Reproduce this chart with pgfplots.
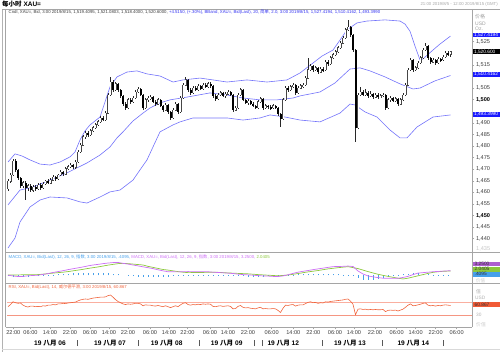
\documentclass[border=0pt]{standalone}
\usepackage{pgfplots}
\pgfplotsset{compat=1.18}
\usepackage{pgfplotstable}
\usepackage{fontspec}
\setmainfont{Liberation Sans}
\newfontfamily\cjk{Noto Sans CJK SC}
\newcommand\fs[1]{\fontsize{#1}{#1}\selectfont}
\definecolor{band}{RGB}{115,115,250}
\definecolor{macdp}{RGB}{205,110,245}
\definecolor{macdg}{RGB}{140,200,60}
\definecolor{histb}{RGB}{70,160,235}
\definecolor{rsic}{RGB}{240,100,60}
\definecolor{rsil}{RGB}{250,175,160}
\definecolor{rsil2}{RGB}{245,150,130}
\definecolor{frame}{RGB}{165,165,165}
\definecolor{lab}{RGB}{60,60,60}
\definecolor{infoblue}{RGB}{50,50,240}
\definecolor{infogray}{RGB}{60,60,60}
\definecolor{bluebox}{RGB}{25,25,255}
\definecolor{wick}{RGB}{40,40,40}
\definecolor{upline}{RGB}{70,70,70}

\pgfplotstableread{
x o h l c
8.0 1461.5 1465.6 1460.8 1464.8
10.5 1464.8 1468.3 1464.2 1467.5
13.0 1467.5 1474.2 1467.0 1473.5
15.5 1473.5 1474.6 1469.0 1469.5
18.0 1469.5 1470.2 1465.4 1466.0
20.5 1466.0 1466.6 1462.0 1462.8
23.0 1462.8 1465.0 1461.8 1464.2
25.5 1464.2 1464.8 1456.7 1461.9
28.0 1461.9 1463.6 1460.5 1462.8
30.5 1462.8 1463.5 1460.2 1461.0
33.0 1461.0 1463.0 1460.0 1462.3
35.5 1462.3 1463.1 1460.6 1461.5
38.0 1461.5 1463.9 1460.9 1463.2
40.5 1463.2 1464.0 1461.2 1461.9
43.0 1461.9 1464.3 1461.3 1463.6
45.5 1463.6 1465.5 1463.0 1464.9
48.0 1464.9 1465.8 1463.4 1464.0
50.5 1464.0 1466.0 1463.5 1465.3
53.0 1465.3 1467.4 1464.8 1466.6
55.5 1466.6 1467.2 1465.0 1465.8
58.0 1465.8 1468.1 1465.3 1467.5
60.5 1467.5 1469.6 1467.0 1468.8
63.0 1468.8 1469.4 1467.2 1467.9
65.5 1467.9 1470.8 1467.4 1470.1
68.0 1470.1 1471.9 1469.5 1471.0
70.5 1471.0 1472.6 1470.4 1471.8
73.0 1471.8 1472.4 1470.2 1470.9
75.5 1470.9 1474.0 1470.3 1473.1
78.0 1473.1 1478.2 1472.6 1477.4
80.5 1477.4 1481.3 1476.8 1480.4
83.0 1480.4 1484.8 1479.9 1483.9
85.5 1483.9 1486.4 1483.2 1485.6
88.0 1485.6 1486.3 1484.0 1484.8
90.5 1484.8 1487.3 1484.3 1486.5
93.0 1486.5 1488.6 1485.9 1487.8
95.5 1487.8 1489.9 1487.2 1489.1
98.0 1489.1 1491.2 1488.5 1490.4
100.5 1490.4 1492.9 1489.9 1492.1
103.0 1492.1 1492.8 1490.6 1491.3
105.5 1491.3 1495.0 1490.8 1494.2
108.0 1494.2 1503.0 1493.6 1502.0
110.5 1502.0 1509.7 1501.4 1507.6
113.0 1507.6 1508.3 1503.5 1504.2
115.5 1504.2 1507.8 1503.6 1506.8
118.0 1506.8 1507.4 1503.4 1504.2
120.5 1504.2 1504.8 1500.9 1501.6
123.0 1501.6 1502.2 1497.4 1498.1
125.5 1498.1 1498.8 1495.6 1496.4
128.0 1496.4 1500.6 1495.9 1499.9
130.5 1499.9 1500.8 1498.3 1499.0
133.0 1499.0 1501.5 1498.4 1500.7
135.5 1500.7 1504.1 1500.1 1503.3
138.0 1503.3 1505.4 1502.7 1504.6
140.5 1504.6 1505.2 1501.4 1502.0
143.0 1502.0 1502.6 1495.6 1496.4
145.5 1496.4 1500.7 1495.8 1499.9
148.0 1499.9 1501.5 1499.2 1500.7
150.5 1500.7 1502.0 1500.0 1501.1
153.0 1501.1 1501.7 1498.4 1499.0
155.5 1499.0 1499.7 1497.4 1498.1
158.0 1498.1 1500.7 1497.6 1499.9
160.5 1499.9 1500.4 1496.7 1497.3
163.0 1497.3 1497.9 1494.8 1495.5
165.5 1495.5 1498.5 1495.0 1497.7
168.0 1497.7 1498.3 1494.0 1494.7
170.5 1494.7 1495.3 1491.4 1492.1
173.0 1492.1 1496.3 1491.5 1495.5
175.5 1495.5 1498.9 1495.0 1498.1
178.0 1498.1 1498.7 1494.0 1494.7
180.5 1494.7 1501.5 1494.2 1500.7
183.0 1500.7 1507.2 1500.1 1506.3
185.5 1506.3 1509.7 1505.7 1508.5
188.0 1508.5 1509.1 1503.5 1504.2
190.5 1504.2 1504.9 1502.2 1502.9
193.0 1502.9 1505.8 1502.3 1505.0
195.5 1505.0 1505.7 1503.6 1504.2
198.0 1504.2 1506.7 1503.7 1505.9
200.5 1505.9 1506.5 1504.0 1504.6
203.0 1504.6 1507.1 1504.1 1506.3
205.5 1506.3 1507.0 1504.9 1505.5
208.0 1505.5 1507.6 1505.0 1506.8
210.5 1506.8 1507.5 1505.2 1505.9
213.0 1505.9 1506.5 1500.9 1501.6
215.5 1501.6 1502.3 1499.6 1500.3
218.0 1500.3 1502.8 1499.8 1502.0
220.5 1502.0 1503.7 1501.4 1502.9
223.0 1502.9 1503.5 1501.0 1501.6
225.5 1501.6 1503.2 1500.9 1502.4
228.0 1502.4 1504.1 1501.8 1503.3
230.5 1503.3 1503.9 1501.4 1502.0
233.0 1502.0 1502.6 1494.8 1495.5
235.5 1495.5 1497.2 1494.9 1496.4
238.0 1496.4 1502.8 1495.8 1502.0
240.5 1502.0 1505.0 1501.4 1504.2
243.0 1504.2 1504.8 1499.2 1499.9
245.5 1499.9 1500.5 1498.0 1498.6
248.0 1498.6 1500.2 1497.9 1499.4
250.5 1499.4 1500.0 1497.5 1498.1
253.0 1498.1 1498.8 1496.7 1497.3
255.5 1497.3 1497.9 1495.8 1496.4
258.0 1496.4 1499.8 1495.9 1499.0
260.5 1499.0 1501.1 1498.4 1500.3
263.0 1500.3 1500.9 1495.7 1496.4
265.5 1496.4 1498.1 1495.8 1497.3
268.0 1497.3 1497.9 1496.1 1496.8
270.5 1496.8 1497.5 1495.7 1496.4
273.0 1496.4 1498.1 1495.9 1497.3
275.5 1497.3 1497.9 1495.8 1496.4
278.0 1496.4 1497.0 1493.1 1493.8
280.5 1493.8 1494.4 1488.2 1491.7
283.0 1491.7 1500.7 1491.1 1499.9
285.5 1499.9 1505.9 1499.3 1505.0
288.0 1505.0 1505.7 1503.5 1504.2
290.5 1504.2 1506.3 1503.7 1505.5
293.0 1505.5 1507.1 1504.9 1506.3
295.5 1506.3 1506.9 1502.2 1502.9
298.0 1502.9 1505.8 1502.4 1505.0
300.5 1505.0 1506.7 1504.4 1505.9
303.0 1505.9 1507.1 1505.2 1506.3
305.5 1506.3 1510.1 1505.7 1509.3
308.0 1509.3 1518.0 1508.7 1512.8
310.5 1512.8 1515.3 1512.2 1514.5
313.0 1514.5 1515.1 1512.1 1512.8
315.5 1512.8 1514.5 1512.2 1513.7
318.0 1513.7 1514.3 1511.2 1511.9
320.5 1511.9 1514.0 1511.3 1513.2
323.0 1513.2 1513.9 1512.1 1512.8
325.5 1512.8 1517.0 1512.2 1516.2
328.0 1516.2 1517.0 1514.7 1515.4
330.5 1515.4 1518.8 1514.8 1518.0
333.0 1518.0 1520.1 1517.4 1519.3
335.5 1519.3 1521.4 1518.7 1520.6
338.0 1520.6 1523.1 1520.0 1522.3
340.5 1522.3 1525.2 1521.7 1524.4
343.0 1524.4 1527.4 1523.8 1526.6
345.5 1526.6 1531.0 1526.0 1530.1
348.0 1530.1 1534.4 1529.5 1531.3
350.5 1531.3 1531.9 1527.2 1527.9
353.0 1527.9 1528.5 1520.7 1521.4
355.5 1521.4 1522.0 1481.7 1487.8
358.0 1487.8 1502.9 1487.2 1502.0
360.5 1502.0 1505.5 1501.4 1503.3
363.0 1503.3 1504.1 1501.4 1502.0
365.5 1502.0 1504.8 1501.4 1502.9
368.0 1502.9 1503.6 1500.9 1501.6
370.5 1501.6 1503.9 1501.0 1502.4
373.0 1502.4 1503.0 1500.4 1501.1
375.5 1501.1 1502.8 1500.5 1502.0
378.0 1502.0 1502.7 1500.5 1501.1
380.5 1501.1 1502.4 1500.5 1501.6
383.0 1501.6 1502.8 1501.0 1502.0
385.5 1502.0 1502.6 1495.7 1496.4
388.0 1496.4 1500.7 1495.8 1499.9
390.5 1499.9 1501.5 1499.2 1500.7
393.0 1500.7 1501.3 1498.8 1499.4
395.5 1499.4 1501.1 1498.8 1500.3
398.0 1500.3 1500.9 1497.4 1498.1
400.5 1498.1 1500.7 1497.6 1499.9
403.0 1499.9 1502.8 1499.3 1502.0
405.5 1502.0 1507.1 1501.4 1506.3
408.0 1506.3 1513.6 1505.7 1512.8
410.5 1512.8 1518.0 1512.2 1517.1
413.0 1517.1 1517.7 1512.1 1512.8
415.5 1512.8 1514.5 1512.2 1513.7
418.0 1513.7 1516.6 1513.1 1515.8
420.5 1515.8 1518.8 1515.2 1518.0
423.0 1518.0 1522.2 1517.4 1521.4
425.5 1521.4 1524.4 1520.8 1523.1
428.0 1523.1 1523.7 1517.3 1518.0
430.5 1518.0 1518.6 1515.5 1516.2
433.0 1516.2 1517.9 1515.6 1517.1
435.5 1517.1 1517.7 1515.1 1515.8
438.0 1515.8 1518.3 1515.2 1517.5
440.5 1517.5 1518.1 1516.4 1517.1
443.0 1517.1 1519.2 1516.5 1518.4
445.5 1518.4 1520.9 1517.8 1520.1
448.0 1520.1 1520.8 1518.7 1519.4
450.5 1519.4 1521.1 1518.4 1520.6
}\candles

\pgfplotstableread{
x y
8 1473.1
15 1476.6
22 1475.7
30 1474.0
40 1472.2
50 1471.8
60 1473.1
70 1475.3
75 1477.4
80 1482.6
85 1486.5
90 1489.1
100 1492.5
105 1499.0
110 1505.5
117 1509.8
127 1511.9
137 1512.4
147 1511.1
160 1510.2
173 1507.6
183 1508.5
200 1509.3
213 1508.5
227 1507.6
247 1508.5
267 1507.6
287 1508.5
300 1511.5
313 1515.8
322 1518.8
333 1521.4
340 1525.7
347 1530.1
357 1533.1
367 1533.9
385 1534.4
400 1533.9
405 1532.6
410 1529.5
415 1523.1
420 1517.1
423 1517.6
433 1521.4
440 1524.0
450.5 1527.4
}\bbup

\pgfplotstableread{
x y
8 1454.6
20 1461.0
33 1462.3
50 1465.3
67 1468.4
87 1472.7
100 1476.1
110 1479.6
117 1483.5
123 1486.1
133 1490.8
143 1494.2
150 1496.4
160 1498.6
170 1499.9
187 1501.1
210 1502.9
227 1502.0
243 1500.7
260 1499.9
277 1499.9
293 1500.7
300 1501.6
320 1503.3
335 1507.2
350 1513.2
360 1513.7
370 1512.4
385 1509.8
400 1506.8
413 1504.6
420 1505.0
435 1508.1
450.5 1510.4
}\bbmid

\pgfplotstableread{
x y
8 1436.0
15 1440.3
20 1447.2
30 1453.7
40 1456.7
50 1458.0
67 1457.6
80 1455.9
87 1455.4
100 1458.0
110 1460.2
120 1461.0
133 1465.3
140 1469.7
147 1474.0
153 1479.6
160 1486.1
173 1489.1
180 1490.4
193 1492.1
210 1492.1
227 1492.1
243 1491.2
260 1492.1
270 1493.4
285 1492.5
300 1491.2
320 1490.4
340 1494.2
350 1498.1
355 1497.7
365 1494.7
377 1492.5
390 1486.9
400 1483.5
407 1483.5
417 1488.2
433 1492.5
450.5 1493.4
}\bblow

\pgfplotstableread{
x y
8 0.2
13 -0.3
18 -0.7
23 -0.6
28 -0.2
33 0.0
38 0.2
43 0.7
48 1.3
53 2.0
58 2.6
63 3.2
68 3.9
73 4.5
78 5.1
83 5.7
88 6.4
93 7.0
98 7.4
103 7.9
108 8.3
113 8.6
118 8.7
123 8.1
128 7.6
133 7.0
138 6.4
143 5.8
148 5.2
153 4.6
158 3.8
163 3.1
168 2.5
178 2.4
188 2.6
198 2.5
208 2.5
213 2.2
218 2.0
223 1.8
228 1.6
233 1.3
238 0.9
243 0.6
248 0.4
253 0.2
258 -0.1
263 -0.3
268 -0.4
273 -0.6
278 -0.7
283 -0.3
288 0.5
293 1.4
298 2.2
303 2.8
308 3.3
313 3.9
318 4.4
323 4.9
328 5.4
333 5.9
338 6.0
343 6.1
348 6.3
353 6.0
358 3.0
363 1.0
368 -0.3
373 -0.9
378 -1.4
383 -1.8
393 -1.9
398 -1.9
403 -1.3
408 -0.6
413 0.6
418 1.6
423 1.9
428 2.2
433 2.5
438 2.7
443 2.9
450.5 3.2
}\macdline

\pgfplotstableread{
x y
8 0.3
18 0.4
28 0.5
38 0.6
43 0.9
48 1.2
53 1.6
58 1.9
63 2.2
68 2.6
73 3.1
78 3.6
83 4.1
88 4.7
93 5.2
98 5.7
103 6.3
108 6.9
113 7.4
118 7.9
123 8.1
128 7.9
133 7.6
138 7.3
143 7.0
148 6.1
153 5.4
158 4.7
163 4.0
168 3.6
173 3.1
178 2.6
183 2.2
188 1.9
198 2.0
208 2.1
218 2.1
228 1.7
238 1.4
248 1.1
258 0.6
268 0.2
278 -0.2
288 0.3
298 1.3
308 2.4
318 3.3
328 4.4
338 5.2
348 5.9
358 4.6
368 2.6
378 0.8
388 -0.6
398 -1.8
403 -2.3
408 -1.8
413 -1.0
418 -0.2
423 0.6
428 1.4
433 2.1
438 2.5
443 2.8
450.5 3.0
}\macdsig

\pgfplotstableread{
x y
8 -0.1
13 -0.7
18 -1.2
23 -1.1
28 -0.8
33 -0.6
38 -0.5
43 -0.2
48 0.1
53 0.4
58 0.7
63 1.0
68 1.3
73 1.4
78 1.5
83 1.6
88 1.7
93 1.8
98 1.7
103 1.6
108 1.4
113 1.2
118 0.8
123 0.0
128 -0.3
133 -0.6
138 -0.9
143 -1.2
148 -0.9
153 -0.8
158 -0.9
163 -0.9
168 -1.1
173 -0.6
178 -0.1
183 0.3
188 0.6
193 0.5
198 0.5
203 0.4
208 0.4
213 0.1
218 -0.1
223 -0.2
228 -0.1
233 -0.3
238 -0.5
243 -0.6
248 -0.7
253 -0.7
258 -0.7
263 -0.7
268 -0.6
273 -0.6
278 -0.5
283 -0.3
288 0.2
293 0.6
298 0.9
303 1.0
308 0.9
313 1.0
318 1.1
323 1.0
328 1.0
333 0.9
338 0.8
343 0.6
348 0.4
353 0.1
358 -1.6
363 -2.8
368 -3.3
373 -3.0
378 -2.4
383 -1.8
388 -1.2
393 -0.6
398 -0.1
403 0.9
408 1.2
413 1.6
418 1.8
423 1.3
428 0.8
433 0.4
438 0.2
443 0.1
448 0.1
}\macdhist

\pgfplotstableread{
x y
8 57
10.5 64
13 73
15.5 70
18 68
20.5 69
23 62
25.5 58
28 56
30.5 59
33 59
35.5 57
38 58
40.5 57
43 60
45.5 59
48 62
50.5 62
53 64
55.5 63
58 66
60.5 66
63 68
65.5 67
68 69
70.5 70
73 71
75.5 72
78 76
80.5 79
83 81
85.5 82
88 81
90.5 83
93 85
95.5 86
98 87
100.5 88
103 88
105.5 89
108 93
110.5 95
113 88
115.5 80
118 74
120.5 70
123 66
125.5 64
128 66
130.5 65
133 66
135.5 68
138 68
140.5 66
143 60
145.5 63
148 62
150.5 62
153 60
155.5 59
158 61
160.5 59
163 57
165.5 60
168 57
170.5 54
173 57
175.5 60
178 57
180.5 63
183 68
185.5 70
188 64
190.5 62
193 64
195.5 63
198 65
200.5 64
203 66
205.5 65
208 66
210.5 65
213 58
215.5 57
218 59
220.5 60
223 58
225.5 59
228 60
230.5 58
233 50
235.5 51
238 58
240.5 61
243 55
245.5 53
248 54
250.5 52
253 51
255.5 50
258 53
260.5 55
263 50
265.5 51
268 50
270.5 50
273 51
275.5 50
278 45
280.5 38
283 52
285.5 62
288 61
290.5 63
293 64
295.5 59
298 62
300.5 63
303 63
305.5 67
308 71
310.5 73
313 70
315.5 71
318 68
320.5 70
323 69
325.5 73
328 72
330.5 74
333 75
335.5 76
338 77
340.5 78
343 79
345.5 81
348 82
350.5 75
353 65
355.5 31
358 49
360.5 50
363 48
365.5 49
368 47
370.5 48
373 47
375.5 48
378 47
380.5 47
383 48
385.5 41
388 45
390.5 46
393 45
395.5 46
398 43
400.5 46
403 49
405.5 55
408 62
410.5 66
413 60
415.5 61
418 63
420.5 65
423 68
425.5 69
428 62
430.5 60
433 61
435.5 59
438 61
440.5 60
443 62
445.5 63
448 62
450.5 60.9
}\rsidata

\begin{document}
\begin{tikzpicture}[x=1pt,y=1pt]
\path[use as bounding box] (0,0) rectangle (500,352);

% ---------- main price panel ----------
\begin{axis}[
  at={(7pt,100pt)}, anchor=south west, scale only axis,
  width=465.3pt, height=243pt,
  xmin=7, xmax=472.3, ymin=1434.28, ymax=1539.1,
  axis x line=none, axis y line*=right,
  axis line style={frame, line width=0.6pt},
  ytick={1440,1445,1455,1460,1465,1470,1475,1480,1485,1490,1505,1515,1525},
  extra y ticks={1450,1500},
  extra y tick style={yticklabel style={font=\fs{5.6}\bfseries, text=black}},
  tick align=outside, major tick length=2pt,
  tick style={frame, line width=0.5pt},
  yticklabel style={font=\fs{5.6}, text=lab, inner sep=0pt, xshift=1.5pt},
  /pgf/number format/1000 sep={,},
  /pgf/number format/assume math mode=true,
  scaled y ticks=false,
]
\addplot[band, line width=0.6pt] table[x=x,y=y] {\bbup};
\addplot[band, line width=0.6pt] table[x=x,y=y] {\bbmid};
\addplot[band, line width=0.6pt] table[x=x,y=y] {\bblow};
% wicks
\addplot[draw=none, no markers, forget plot,
  error bars/.cd, y dir=both, y explicit, error mark=none,
  error bar style={line width=0.45pt, draw=wick}]
  table[x=x, y expr={(\thisrow{h}+\thisrow{l})/2}, y error expr={(\thisrow{h}-\thisrow{l})/2}] {\candles};
% up bodies: outline
\addplot[draw=none, no markers, forget plot,
  error bars/.cd, y dir=both, y explicit, error mark=none,
  error bar style={line width=2.0pt, draw=upline}]
  table[x=x, y expr={(\thisrow{o}+\thisrow{c})/2}, y error expr={max(\thisrow{c}-\thisrow{o},0)/2+0.2}] {\candles};
% up bodies: white inside
\addplot[draw=none, no markers, forget plot,
  error bars/.cd, y dir=both, y explicit, error mark=none,
  error bar style={line width=1.0pt, draw=white}]
  table[x=x, y expr={(\thisrow{o}+\thisrow{c})/2}, y error expr={max((\thisrow{c}-\thisrow{o})/2-0.1,0)}] {\candles};
% down bodies
\addplot[draw=none, no markers, forget plot,
  error bars/.cd, y dir=both, y explicit, error mark=none,
  error bar style={line width=2.0pt, draw=black}]
  table[x=x, y expr={(\thisrow{o}+\thisrow{c})/2}, y error expr={max(\thisrow{o}-\thisrow{c},0)/2}] {\candles};
\end{axis}

% ---------- MACD panel ----------
\begin{axis}[
  at={(7pt,69pt)}, anchor=south west, scale only axis,
  width=465.3pt, height=29pt,
  xmin=7, xmax=472.3, ymin=-5, ymax=14.33, hide axis,
]
\addplot[histb, ycomb, line width=0.8pt] table[x=x,y=y] {\macdhist};
\addplot[macdg, line width=0.7pt] table[x=x,y=y] {\macdsig};
\addplot[macdp, line width=0.7pt] table[x=x,y=y] {\macdline};
\end{axis}

% ---------- RSI panel ----------
\begin{axis}[
  at={(7pt,24.7pt)}, anchor=south west, scale only axis,
  width=465.3pt, height=42.8pt,
  xmin=7, xmax=472.3, ymin=-10, ymax=129.2,
  axis x line*=bottom, axis y line=none,
  axis line style={frame, line width=0.6pt},
  xtick={13.3,30.5,50,70,90,109,128,150,169,187.5,210,228,248,271.7,293.3,313.3,335,354,375,396.7,415.7,435.7,456.7},
  xticklabels={22:00,06:00,14:00,22:00,06:00,14:00,22:00,06:00,14:00,22:00,06:00,14:00,22:00,06:00,14:00,22:00,06:00,14:00,22:00,06:00,14:00,22:00,06:00},
  tick align=outside, major tick length=2pt,
  tick style={frame, line width=0.5pt},
  xticklabel style={font=\fs{5.6}, text=lab, inner sep=0.6pt},
  ytick=\empty,
]
\addplot[rsil, line width=1.6pt] coordinates {(7,70) (472.3,70)};
\addplot[rsil2, line width=0.7pt] coordinates {(7,30) (472.3,30)};
\addplot[rsic, line width=0.6pt] table[x=x,y=y] {\rsidata};
\end{axis}

% ---------- frame ----------
\draw[gray!60, line width=1pt] (2.3,0) -- (2.3,343);
\draw[frame, line width=0.8pt] (2,343) -- (500,343);
\draw[frame, line width=0.5pt] (5.5,343) -- (5.5,24.7);
\draw[gray!30, line width=0.6pt] (2,2.5) -- (500,2.5);
\draw[frame, line width=1.2pt] (5.5,99.2) -- (500,99.2);
\draw[frame, line width=1.2pt] (5.5,68.3) -- (500,68.3);
\draw[frame, line width=0.6pt] (472.3,343) -- (472.3,24.7);
\draw[frame, line width=0.6pt] (5.5,24.7) -- (472.3,24.7);

% ---------- titles ----------
\node[anchor=west, inner sep=0pt, text=black] at (2,347.8) {\fs{6.5}\bfseries{\cjk 每小时} XAU=};
\node[anchor=east, inner sep=0pt, text=gray!70] at (498,348) {\fs{4.3}21:00 2019/8/5 - 12:00 2019/8/15 (GMT)};
\node[anchor=west, inner sep=0pt] at (8.5,339.7) {\fs{4.3}\color{infogray}Cndl, XAU=, Bid, 3:00 2019/8/15, 1,519.4095, 1,521.0803, 1,518.4000, 1,520.6000, \color{infoblue}+4.5150, (+.30\%), BBand, XAU=, Bid(Last), 20, {\cjk 简单}, 2.0, 3:00 2019/8/15, 1,527.4194, 1,510.4162, 1,493.3990};
\node[anchor=west, inner sep=0pt] at (8.5,94.7) {\fs{4.3}\color{histb}MACD, XAU=, Bid(Last), 12, 26, 9, {\cjk 指数}, 3:00 2019/8/15, .4095, \color{macdp}MACD, XAU=, Bid(Last), 12, 26, 9, {\cjk 指数}, 3:00 2019/8/15, 3.2500, \color{macdg}2.0405};
\node[anchor=west, inner sep=0pt] at (8.5,64.7) {\fs{4.3}\color{rsic}RSI, XAU=, Bid(Last), 14, {\cjk 威尔德平滑}, 3:00 2019/8/15, 60.867};

% ---------- right labels ----------
\node[anchor=west, inner sep=0pt, text=gray!75] at (475,335.5) {\fs{5}\cjk 价格};
\node[anchor=west, inner sep=0pt, text=gray!75] at (475,328.5) {\fs{5}USD};
\node[anchor=west, inner sep=0pt, text=gray!75] at (475,323) {\fs{5}Oz.};
\node[anchor=west, inner sep=0pt, text=gray!45] at (476,103.5) {\fs{5.6}1,435};
\fill[bluebox] (473,314.7) rectangle (500,319.3);
\node[anchor=west, inner sep=0pt, text=white] at (473.8,317) {\fs{4.8}1,527.4194};
\fill[black] (473,297.9) rectangle (500,302.7);
\node[anchor=west, inner sep=0pt, text=white] at (473.8,300.3) {\fs{4.8}1,520.600};
\fill[bluebox] (473,275.2) rectangle (500,279.8);
\node[anchor=west, inner sep=0pt, text=white] at (473.8,277.5) {\fs{4.8}1,510.4162};
\fill[bluebox] (473,235.2) rectangle (500,239.8);
\node[anchor=west, inner sep=0pt, text=white] at (473.8,237.5) {\fs{4.8}1,493.3990};

\fill[macdp!85!black] (473,85.5) rectangle (500,90.1);
\node[anchor=west, inner sep=0pt, text=black!80] at (474.5,87.8) {\fs{4.8}3.2500};
\fill[macdg] (473,80.4) rectangle (500,85.0);
\node[anchor=west, inner sep=0pt, text=black!80] at (474.5,82.7) {\fs{4.8}2.0405};
\fill[histb] (473,75.4) rectangle (500,80.0);
\node[anchor=west, inner sep=0pt, text=black!80] at (474.5,77.7) {\fs{4.8}.4095};
\node[anchor=west, inner sep=0pt, text=gray!40] at (476,71) {\fs{4.5}\cjk 价值};

\node[anchor=west, inner sep=0pt, text=gray!60] at (476,60) {\fs{4.8}\cjk 值};
\node[anchor=west, inner sep=0pt, text=gray!60] at (475,54) {\fs{4.8}USD};
\fill[rsic!90!red] (473,45.2) rectangle (500,49.8);
\node[anchor=west, inner sep=0pt, text=black!80] at (474.5,47.5) {\fs{4.8}60.867};
\node[anchor=west, inner sep=0pt, text=gray!60] at (476,37) {\fs{4.8}30};
\node[anchor=west, inner sep=0pt, text=gray!40] at (476,27) {\fs{4.8}\cjk 价值};

% ---------- date labels ----------
\foreach \xx/\dd in {50/06, 110/07, 166.7/08, 226.7/09, 283.3/12, 350/13, 413.3/14}{
  \node[inner sep=0pt, text=black] at (\xx,9) {\fs{6.6}\bfseries 19 {\cjk 八月} \dd};
}
\foreach \xx in {77.7,138.3,199,254.3,262.3,322.7,382.7,443.3}{
  \draw[gray!70!black, line width=0.6pt] (\xx,5.8) -- (\xx,12.2);
}
\end{tikzpicture}
\end{document}
